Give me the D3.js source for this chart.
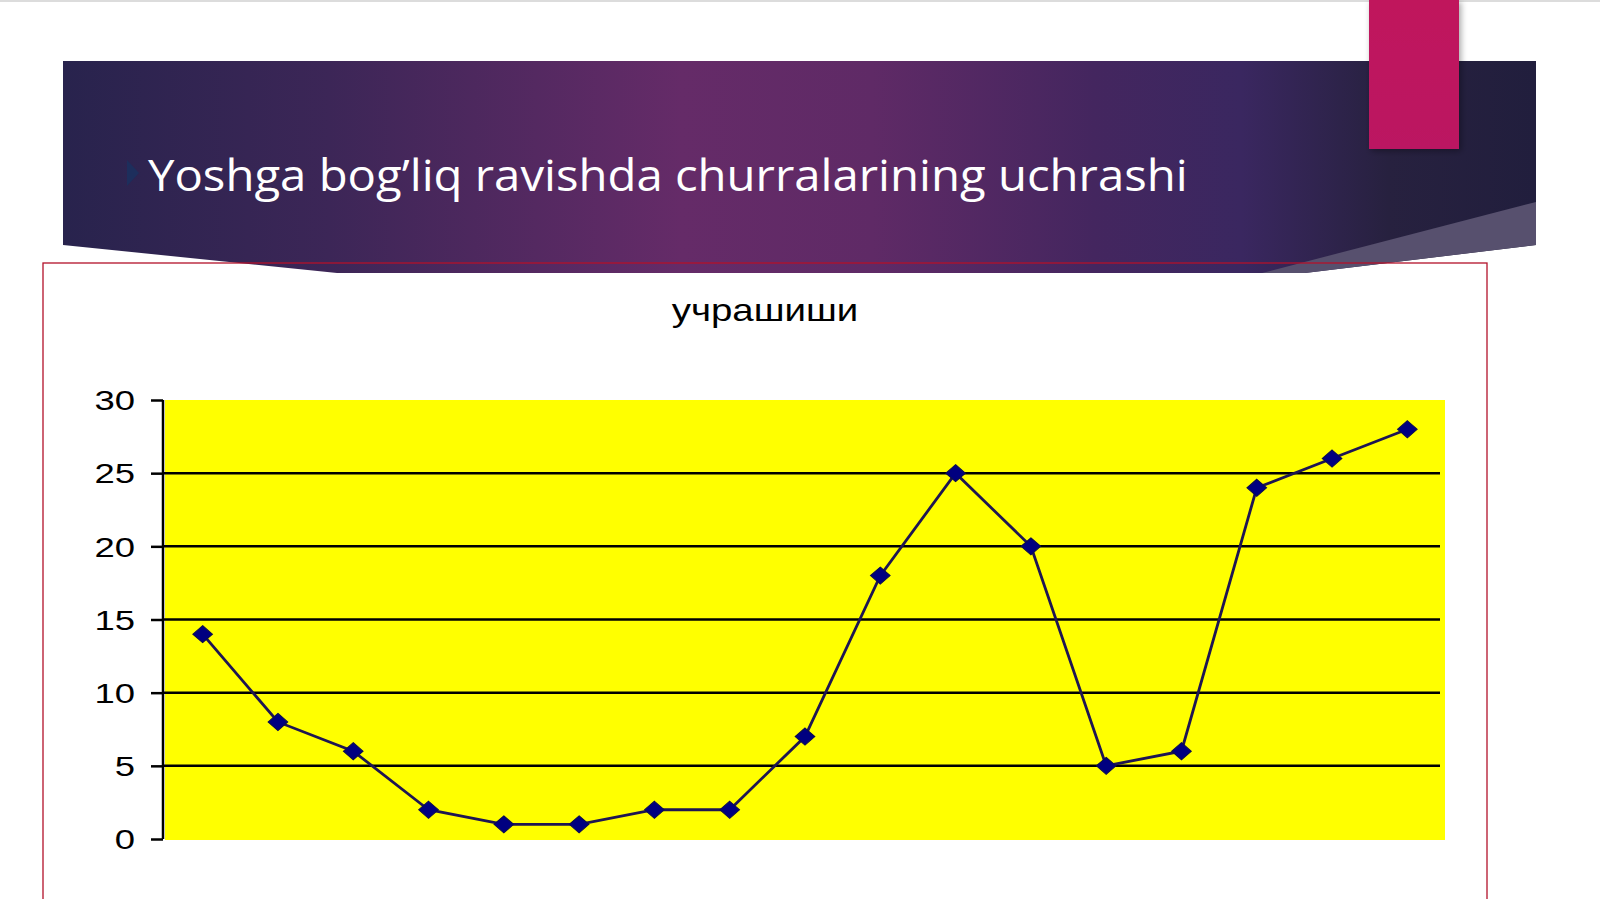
<!DOCTYPE html>
<html>
<head>
<meta charset="utf-8">
<script src="https://cdn.jsdelivr.net/npm/d3@7"></script>
<style>
  html, body { margin: 0; padding: 0; background: #fff; overflow: hidden; }
  svg { display: block; }
</style>
</head>
<body>
<svg id="slide"></svg>
<script>
// chart data
const slideTitle = 'Yoshga bog\u2019liq ravishda churralarining uchrashi';
const chartTitle = 'учрашиши';
const groups = ['1', '2', '3', '4', '5', '6', '7', '8', '9', '10', '11', '12', '13', '14', '15', '16', '17'];
const values = [14, 8, 6, 2, 1, 1, 2, 2, 7, 18, 25, 20, 5, 6, 24, 26, 28];
const yTicks = [0, 5, 10, 15, 20, 25, 30];

const W = 1600, H = 899;

const svg = d3.select('#slide')
    .attr('width', W)
    .attr('height', H);

const defs = svg.append('defs');

const grad = defs.append('linearGradient')
    .attr('id', 'banner-grad')
    .attr('x1', 0).attr('x2', 1).attr('y1', 0).attr('y2', 0);
[
    [0, '#28234d'], [0.18, '#3c2657'], [0.42, '#652b68'], [0.55, '#5f2a66'],
    [0.7, '#44265f'], [0.8, '#3a2760'], [0.9, '#27213f'], [1, '#211e3d']
].forEach(s => grad.append('stop').attr('offset', s[0]).attr('stop-color', s[1]));

const pinkGrad = defs.append('linearGradient')
    .attr('id', 'pink-grad')
    .attr('x1', 0).attr('x2', 0).attr('y1', 0).attr('y2', 1);
pinkGrad.append('stop').attr('offset', 0).attr('stop-color', '#c0145c');
pinkGrad.append('stop').attr('offset', 1).attr('stop-color', '#bb1662');

const shadow = defs.append('filter').attr('id', 'shadow')
    .attr('x', '-20%').attr('y', '-20%').attr('width', '140%').attr('height', '140%');
shadow.append('feDropShadow')
    .attr('dx', 2).attr('dy', 2).attr('stdDeviation', 3)
    .attr('flood-color', '#000').attr('flood-opacity', 0.35);

// top hairline of the slide
svg.append('rect')
    .attr('x', 0).attr('y', 0).attr('width', W).attr('height', 2)
    .attr('fill', '#dcdcdc');

// chart frame (fill first, border drawn after the banner)
const frame = { x: 43, y: 263, w: 1444, h: 660 };
svg.append('rect')
    .attr('x', frame.x).attr('y', frame.y)
    .attr('width', frame.w).attr('height', frame.h)
    .attr('fill', '#fff');

// title banner
svg.append('path')
    .attr('d', 'M63,61 L1536,61 L1536,245 L1305,273 L337,273 L63,245 Z')
    .attr('fill', 'url(#banner-grad)');

svg.append('path')
    .attr('d', 'M1536,202 L1536,245 L1305,273 L1262,273 Z')
    .attr('fill', '#57506e');

svg.append('rect')
    .attr('x', frame.x).attr('y', frame.y)
    .attr('width', frame.w).attr('height', frame.h)
    .attr('fill', 'none')
    .attr('stroke', '#b3122a')
    .attr('stroke-width', 1.3);

// accent block
svg.append('rect')
    .attr('x', 1369).attr('y', 0).attr('width', 90).attr('height', 149)
    .attr('fill', 'url(#pink-grad)')
    .attr('filter', 'url(#shadow)');

// bullet + slide title
svg.append('path')
    .attr('d', 'M127,160 L139,173 L127,186 Z')
    .attr('fill', '#1d2e5c');

svg.append('text')
    .attr('x', 148).attr('y', 191)
    .attr('font-family', '"Open Sans", "Noto Sans", sans-serif')
    .attr('font-size', 43)
    .attr('fill', '#fff')
    .attr('transform', 'translate(148,0) scale(1.1,1) translate(-148,0)')
    .text(slideTitle);

// chart
const plot = { left: 165, right: 1445, top: 400, bottom: 840 };

const xScale = d3.scalePoint()
    .domain(groups)
    .range([plot.left, plot.right])
    .padding(0.5);

const yScale = d3.scaleLinear()
    .domain([0, 30])
    .range([plot.bottom - 1, plot.top]);

svg.append('text')
    .attr('x', 765).attr('y', 321)
    .attr('text-anchor', 'middle')
    .attr('font-family', '"Liberation Sans", Arial, sans-serif')
    .attr('font-size', 31)
    .attr('fill', '#000')
    .attr('transform', 'translate(765,0) scale(1.24,1) translate(-765,0)')
    .text(chartTitle);

svg.append('rect')
    .attr('x', plot.left).attr('y', plot.top)
    .attr('width', plot.right - plot.left)
    .attr('height', plot.bottom - plot.top)
    .attr('fill', '#ffff00');

// gridlines
svg.append('g')
    .selectAll('line')
    .data(yTicks.filter(d => d > 0 && d < 30))
    .join('line')
    .attr('x1', plot.left - 2).attr('x2', plot.right - 5)
    .attr('y1', d => yScale(d)).attr('y2', d => yScale(d))
    .attr('stroke', '#000')
    .attr('stroke-width', 2.5);

// y axis
const yAxis = d3.axisLeft(yScale)
    .tickValues(yTicks)
    .tickSize(12)
    .tickPadding(16)
    .tickSizeOuter(0);

const yAxisG = svg.append('g')
    .attr('transform', `translate(${plot.left - 2},0)`)
    .call(yAxis);

yAxisG.select('.domain')
    .attr('stroke', '#000')
    .attr('stroke-width', 2.5)
    .attr('d', `M0,${yScale(30)}V${yScale(0)}`);
yAxisG.selectAll('.tick line')
    .attr('stroke', '#000')
    .attr('stroke-width', 2.5);
yAxisG.selectAll('.tick text')
    .attr('font-family', '"Liberation Sans", Arial, sans-serif')
    .attr('font-size', 27)
    .attr('fill', '#000')
    .attr('transform', 'translate(-28,0) scale(1.35,1)')
    .attr('x', 0)
    .attr('dy', '0.36em');

// series line
const line = d3.line()
    .x((d, i) => xScale(groups[i]))
    .y(d => yScale(d));

svg.append('path')
    .datum(values)
    .attr('d', line)
    .attr('fill', 'none')
    .attr('stroke', '#1e1552')
    .attr('stroke-width', 2.8);

// diamond markers
svg.append('g')
    .selectAll('path')
    .data(values)
    .join('path')
    .attr('transform', (d, i) => `translate(${xScale(groups[i])},${yScale(d)}) scale(1.15,1)`)
    .attr('d', 'M0,-8.5 L8.5,0 L0,8.5 L-8.5,0 Z')
    .attr('fill', '#000080')
    .attr('stroke', '#0c0c50')
    .attr('stroke-width', 1);
</script>
</body>
</html>
